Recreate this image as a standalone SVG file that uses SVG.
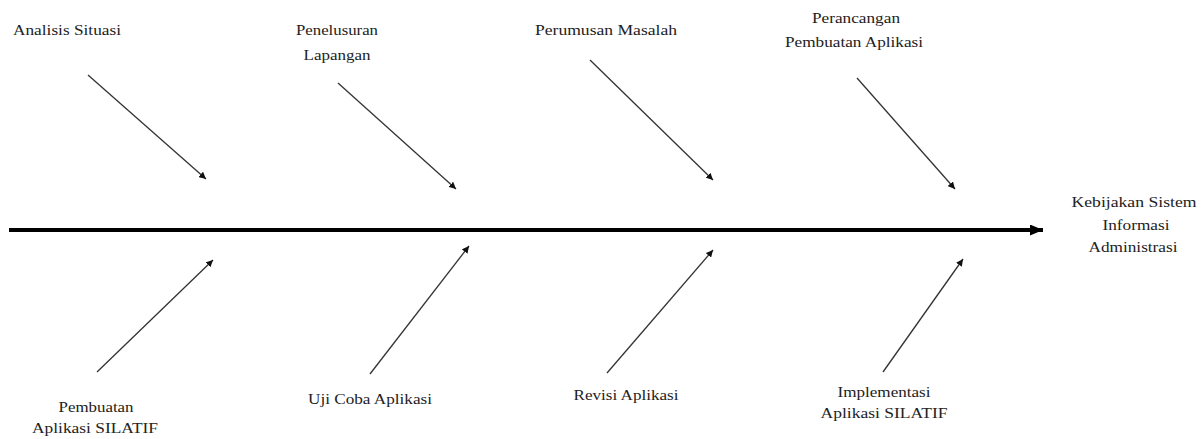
<svg xmlns="http://www.w3.org/2000/svg" width="1203" height="439" viewBox="0 0 1203 439">
<style>
text{font-family:"Liberation Serif","Times New Roman","DejaVu Serif",serif;font-size:15.5px;fill:#222;text-anchor:middle}
.b{stroke:#333;stroke-width:1.3;fill:none;marker-end:url(#ah)}
.spine{stroke:#000;stroke-width:4;fill:none;marker-end:url(#big)}
</style>
<defs>
<marker id="ah" viewBox="0 0 10 10" refX="10" refY="5" markerWidth="7" markerHeight="7" markerUnits="userSpaceOnUse" orient="auto"><path d="M0,0L10,5L0,10z" fill="#111"/></marker>
<marker id="big" viewBox="0 0 10 10" refX="10" refY="5" markerWidth="13" markerHeight="11" markerUnits="userSpaceOnUse" orient="auto" preserveAspectRatio="none"><path d="M0,0L10,5L0,10z" fill="#000"/></marker>
</defs>
<g id="connectors">
<line class="spine" x1="9" y1="230" x2="1043" y2="230"/>
<line class="b" x1="88" y1="75" x2="206" y2="179"/>
<line class="b" x1="338" y1="83" x2="456" y2="189"/>
<line class="b" x1="590" y1="60" x2="713" y2="180"/>
<line class="b" x1="857" y1="78" x2="955" y2="189"/>
<line class="b" x1="97" y1="372" x2="213" y2="260"/>
<line class="b" x1="370" y1="374" x2="469" y2="246"/>
<line class="b" x1="607" y1="373" x2="713" y2="250"/>
<line class="b" x1="883" y1="372" x2="963" y2="259"/>
</g>
<g font-family="Liberation Serif, Times New Roman, DejaVu Serif, serif">
<g id="analisis"><text x="67" y="35" textLength="108" lengthAdjust="spacingAndGlyphs">Analisis  Situasi</text></g>
<g id="penelusuran"><text x="337" y="35" textLength="82" lengthAdjust="spacingAndGlyphs">Penelusuran</text><text x="337" y="60" textLength="67" lengthAdjust="spacingAndGlyphs">Lapangan</text></g>
<g id="perumusan"><text x="606" y="35" textLength="142" lengthAdjust="spacingAndGlyphs">Perumusan  Masalah</text></g>
<g id="perancangan"><text x="856" y="23" textLength="88" lengthAdjust="spacingAndGlyphs">Perancangan</text><text x="854" y="47" textLength="138" lengthAdjust="spacingAndGlyphs">Pembuatan  Aplikasi</text></g>
<g id="kebijakan"><text x="1134" y="207" textLength="125" lengthAdjust="spacingAndGlyphs">Kebijakan  Sistem</text><text x="1136" y="230" textLength="67" lengthAdjust="spacingAndGlyphs">Informasi</text><text x="1133" y="252" textLength="89" lengthAdjust="spacingAndGlyphs">Administrasi</text></g>
<g id="pembuatan"><text x="96" y="412" textLength="75" lengthAdjust="spacingAndGlyphs">Pembuatan</text><text x="95" y="433" textLength="126" lengthAdjust="spacingAndGlyphs">Aplikasi  SILATIF</text></g>
<g id="ujicoba"><text x="370" y="404" textLength="124" lengthAdjust="spacingAndGlyphs">Uji Coba Aplikasi</text></g>
<g id="revisi"><text x="626" y="400" textLength="105" lengthAdjust="spacingAndGlyphs">Revisi  Aplikasi</text></g>
<g id="implementasi"><text x="884" y="397" textLength="93" lengthAdjust="spacingAndGlyphs">Implementasi</text><text x="884" y="418" textLength="127" lengthAdjust="spacingAndGlyphs">Aplikasi  SILATIF</text></g>
</g>
</svg>
